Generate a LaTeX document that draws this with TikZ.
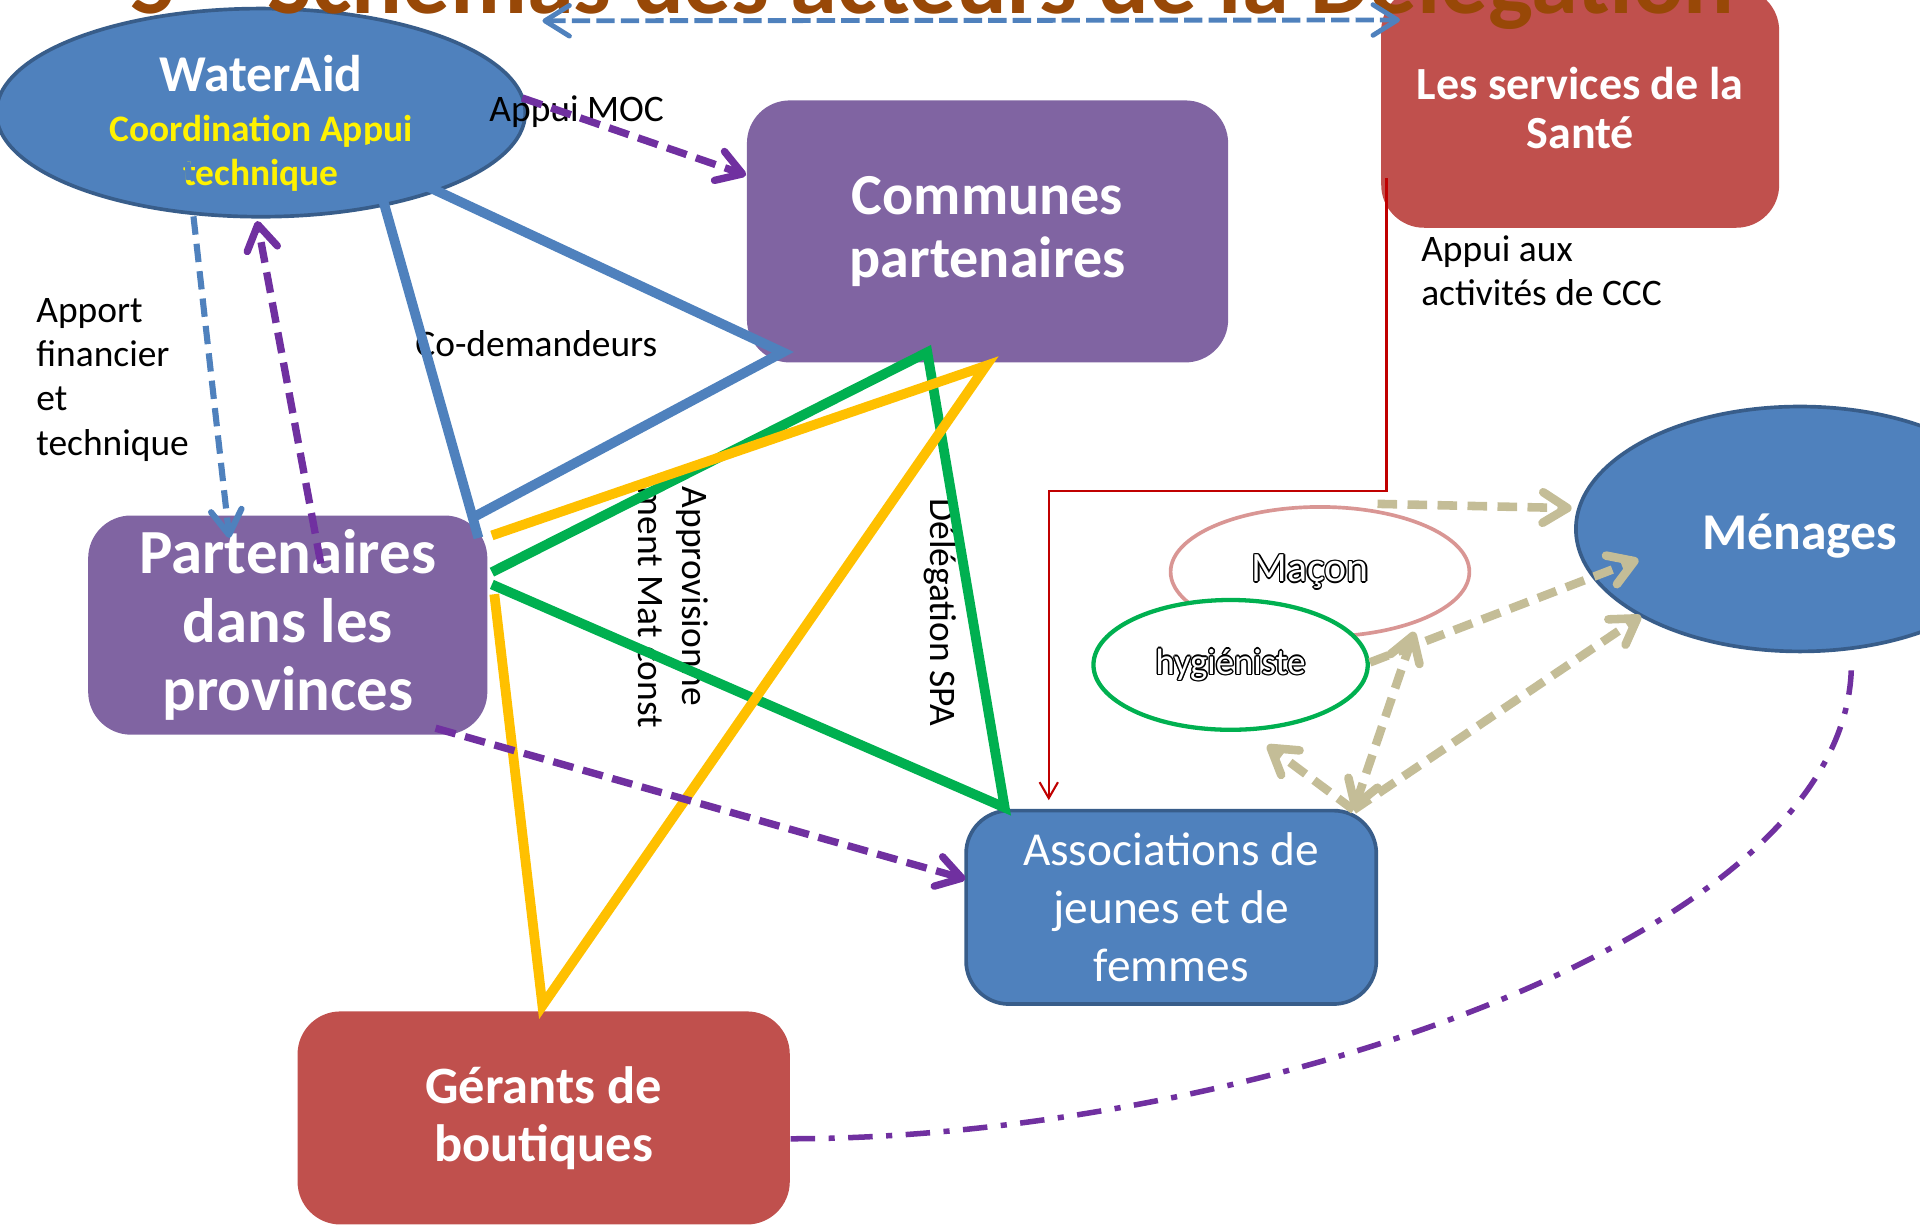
\documentclass[tikz,border=0pt]{standalone}
\usepackage{fontspec}
\setmainfont{Carlito}
\usetikzlibrary{arrows.meta,shapes.geometric}

\definecolor{waterblue}{HTML}{4F81BD}
\definecolor{waterborder}{HTML}{385D8A}
\definecolor{boxpurple}{HTML}{8064A2}
\definecolor{boxred}{HTML}{C0504D}
\definecolor{arrowpurple}{HTML}{7030A0}
\definecolor{linegreen}{HTML}{00B050}
\definecolor{lineyellow}{HTML}{FFC000}
\definecolor{linetan}{HTML}{C4BD97}
\definecolor{maconpink}{HTML}{D99694}
\definecolor{linered}{HTML}{C00000}
\definecolor{titlebrown}{HTML}{984807}

% white letters with a thin black rim
\newcommand{\hollowtext}[1]{%
    \leavevmode
    \rlap{\color{black}\kern-.34pt#1}%
    \rlap{\color{black}\kern.34pt#1}%
    \rlap{\color{black}\raisebox{.34pt}{#1}}%
    \rlap{\color{black}\raisebox{-.34pt}{#1}}%
    \rlap{\color{black}\kern-.24pt\raisebox{.24pt}{#1}}%
    \rlap{\color{black}\kern.24pt\raisebox{.24pt}{#1}}%
    \rlap{\color{black}\kern-.24pt\raisebox{-.24pt}{#1}}%
    \rlap{\color{black}\kern.24pt\raisebox{-.24pt}{#1}}%
    {\color{white}#1}}

\begin{document}
\begin{tikzpicture}[x=0.1mm, y=-0.1mm, node distance=2cm,
    >={Straight Barb[length=2mm, width=2.5mm, round]},
    bigbox/.style={rectangle, rounded corners=3.5mm, inner sep=0pt, align=center, text=white},
    oval/.style={ellipse, inner sep=0pt, align=center},
    note/.style={inner sep=0pt, align=left, font=\fontsize{8.7}{10.3}\selectfont},
    coline/.style={draw=waterblue, line width=0.8mm},
    greenline/.style={draw=linegreen, line width=0.8mm},
    yellowline/.style={draw=lineyellow, line width=0.8mm},
    purplearrow/.style={->, draw=arrowpurple, line width=0.6mm, dash pattern=on 1.7mm off 0.8mm},
    bluearrow/.style={->, draw=waterblue, line width=0.5mm, dash pattern=on 1.5mm off 0.75mm},
    tanarrow/.style={->, draw=linetan, line width=0.7mm, dash pattern=on 1.6mm off 0.85mm},
    redline/.style={-{Straight Barb[length=1.3mm, width=1.5mm]}, draw=linered, line width=0.17mm},
    boutiqueline/.style={draw=arrowpurple, line width=0.45mm, dash pattern=on 2mm off 1.1mm on 0.5mm off 1.1mm}
]
    \useasboundingbox (0,0) rectangle (1568,1001);

    % WaterAid
    \node[oval, draw=waterborder, line width=0.3mm, fill=waterblue, minimum width=4.32cm, minimum height=1.7cm] (wateraid) at (213,92) {};
    \node[align=center, inner sep=0pt, font=\bfseries\fontsize{8.7}{10.2}\selectfont] (wateraidtext) at ([shift={(0,8.5)}]wateraid.center) {
        {\color{white}\fontsize{12}{12}\selectfont WaterAid}\\[1.45pt]
        {\color{yellow}Coordination Appui}\\
        {\color{yellow}technique}
    };

    % Communes
    \node[bigbox, fill=boxpurple, minimum width=3.93cm, minimum height=2.14cm, font=\bfseries\fontsize{13.5}{14.5}\selectfont, right of=wateraid, xshift=3.935cm, yshift=-0.97cm] (communes) {
        Communes\\partenaires
    };

    % Sante
    \node[bigbox, fill=boxred, minimum width=3.25cm, minimum height=1.96cm, font=\bfseries\fontsize{10.7}{11.4}\selectfont, right of=communes, xshift=2.84cm, yshift=1.01cm] (sante) {
        Les services de la\\Santé
    };

    % Partenaires
    \node[bigbox, fill=boxpurple, minimum width=3.26cm, minimum height=1.79cm, font=\bfseries\fontsize{14.6}{15.9}\selectfont, below of=wateraid, xshift=0.22cm, yshift=-2.185cm] (partenaires) {
        Partenaires\\dans les\\provinces
    };

    % Associations
    \node[bigbox, fill=waterblue, draw=waterborder, line width=0.3mm, minimum width=3.35cm, minimum height=1.58cm, font=\fontsize{11}{13.4}\selectfont, right of=partenaires, xshift=5.215cm, yshift=-2.305cm] (assoc) {
        Associations de\\jeunes et de\\femmes
    };

    % Gerants
    \node[bigbox, fill=boxred, minimum width=4.02cm, minimum height=1.74cm, font=\bfseries\fontsize{12.2}{13.4}\selectfont, below of=partenaires, xshift=2.09cm, yshift=-2.025cm] (gerants) {
        Gérants de\\boutiques
    };

    % Menages
    \node[oval, draw=waterborder, line width=0.3mm, fill=waterblue, text=white, minimum width=3.66cm, minimum height=2cm, font=\bfseries\fontsize{12}{14}\selectfont, below of=sante, xshift=1.795cm, yshift=-1.44cm] (menages) {\raisebox{-1.6pt}[\height][\depth]{Ménages}};

    % Macon et hygieniste
    \node[oval, draw=maconpink, line width=0.3mm, fill=white, minimum width=2.44cm, minimum height=1.06cm, font=\fontsize{9.7}{11}\selectfont, left of=menages, xshift=-1.92cm, yshift=-0.35cm] (macon) {\hollowtext{Maçon}\hspace{1.6mm}};
    \node[oval, draw=linegreen, line width=0.35mm, fill=white, minimum width=2.24cm, minimum height=1.06cm, font=\fontsize{8.5}{10}\selectfont, left of=macon, xshift=1.27cm, yshift=-0.76cm] (hygieniste) {\hollowtext{hygiéniste}};

    % Title
    \node[anchor=base west, inner sep=0pt, text=titlebrown, font=\bfseries\fontsize{22}{26}\selectfont] (title) at (105,11) {5 – Schémas des acteurs de la Délégation};

    % Labels
    \node[note] (appuimoc) at (471,91) {Appui MOC};
    \node[note, anchor=west] (apport) at (29,310) {Apport\\financier\\et\\technique};
    \node[note] (codem) at (438,281) {Co-demandeurs};
    \node[note, anchor=west] (appuiccc) at (1160,221) {Appui aux\\activités de CCC};
    \node[note, rotate=-90] (approv) at (550,496) {Approvisionne\\ment Mat const};
    \node[note, rotate=-90] (delegspa) at (768,500) {Délégation SPA};

    % Triangles
    \draw[coline] ([shift={(87,26)}]wateraid.center) -- ([shift={(-8,19)}]partenaires.north east);
    \draw[coline] ([shift={(99,43)}]wateraid.center) -- ([shift={(30,-9)}]communes.south west) -- ([shift={(-10,1)}]partenaires.north east);
    \draw[greenline] ([shift={(3,47)}]partenaires.north east) -- ([shift={(148,-9)}]communes.south west) -- ([shift={(33,-1)}]assoc.north west) -- ([shift={(3,57)}]partenaires.north east);
    \draw[yellowline] ([shift={(3,17)}]partenaires.north east) -- ([shift={(196,2)}]communes.south west) -- ([shift={(-1,-4)}]gerants.north) -- ([shift={(5,65)}]partenaires.north east);

    % Arrows
    \coordinate (delegleft) at (443,17);
    \draw[bluearrow, <->, line width=0.4mm, dash pattern=on 1.5mm off 0.5mm] (delegleft) -- ([shift={(16,27)}]sante.north west);
    \draw[bluearrow] ([shift={(-60,40)}]wateraid.center) -- ([shift={(116,19)}]partenaires.north west);
    \draw[purplearrow] ([shift={(-4,-12)}]wateraid.east) -- ([shift={(0,-46)}]communes.west);
    \draw[purplearrow] ([shift={(27,40)}]partenaires.north) -- ([shift={(-3,2)}]wateraid.south);
    \draw[purplearrow] ([shift={(-43,-6)}]partenaires.south east) -- ([shift={(1,-23)}]assoc.west);
    \draw[redline] ([shift={(5,-41)}]sante.south west) -- ++(0,255) -| ([shift={(69,-7)}]assoc.north west);
    \draw[tanarrow] ([shift={(47,-1)}]macon.north) -- ([shift={(-2,-17)}]menages.west);
    \draw[tanarrow] ([shift={(0,-2)}]hygieniste.east) -- ([shift={(-132,25)}]menages.center);
    \draw[tanarrow] ([shift={(-20,1)}]assoc.north east) -- ([shift={(-130,71)}]menages.center);
    \draw[tanarrow, <->] ([shift={(-20,1)}]assoc.north east) -- ([shift={(77,49)}]macon.center);
    \draw[tanarrow] ([shift={(-20,1)}]assoc.north east) -- ([shift={(30,11)}]hygieniste.south);
    \draw[boutiqueline] ([shift={(0,17)}]gerants.east) .. controls +(355,0) and +(0,230) .. ([shift={(42,8)}]menages.south);

\end{tikzpicture}
\end{document}
